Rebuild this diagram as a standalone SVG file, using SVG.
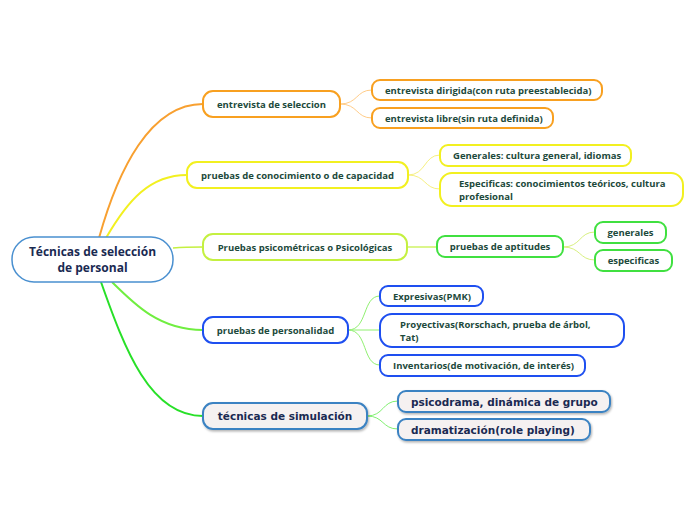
<svg xmlns="http://www.w3.org/2000/svg" width="696" height="520" viewBox="0 0 696 520">
<style>
.t{font-family:"Open Sans","Noto Sans","Liberation Sans",sans-serif;font-weight:bold;font-size:9.5px;fill:#1d4a3c}
.s{font-family:"DejaVu Sans","Liberation Sans",sans-serif;font-weight:bold;font-size:10.5px;fill:#1a2a52}
.r{font-family:"Open Sans","Noto Sans","Liberation Sans",sans-serif;font-weight:bold;font-size:12px;fill:#1a2a52}
.b{fill:#fff;stroke-width:2}
.or{stroke:#f8a020}.ye{stroke:#f2f020}.yg{stroke:#c4f040}.gr{stroke:#40e040}.bl{stroke:#1e4ff0}
.sm{fill:#f5f1f1;stroke:#3a82c2;stroke-width:2;filter:url(#sh)}
.c{fill:none}
</style>
<defs>
<filter id="sh" x="-10%" y="-30%" width="120%" height="170%">
<feDropShadow dx="1" dy="1.5" stdDeviation="1" flood-color="#000" flood-opacity="0.3"/>
</filter>
</defs>
<g id="connectors" class="c">
<path d="M99,238 C118,170 150,104 203,104" stroke="#f8a030" stroke-width="2"/>
<path d="M106,238 C128,200 150,175 187,175" stroke="#f2f020" stroke-width="2"/>
<path d="M173,248 C185,247 192,247 203,247" stroke="#c4f040" stroke-width="1.5"/>
<path d="M112,282 C135,305 160,330 203,330" stroke="#70ee40" stroke-width="2"/>
<path d="M101,282 C125,350 150,416 203,416" stroke="#28e028" stroke-width="2"/>
<path d="M340,104 C358,104 356,90 372,90 M340,104 C358,104 356,118 372,118" stroke="#ffcc88" stroke-width="1"/>
<path d="M408,175 C426,175 424,155 440,155 M408,175 C426,175 424,189 440,189" stroke="#f6f080" stroke-width="1"/>
<path d="M407,247 L437,247" stroke="#c4f040" stroke-width="1.2"/>
<path d="M563,247 C581,247 579,232 595,232 M563,247 C581,247 579,260 595,260" stroke="#d8f080" stroke-width="1"/>
<path d="M348,330 C368,330 362,296 380,296 M348,330 L380,330 M348,330 C368,330 362,365 380,365" stroke="#90f070" stroke-width="1"/>
<path d="M367,416 C384,416 382,401 398,401 M367,416 C384,416 382,429 398,429" stroke="#80f070" stroke-width="1"/>
</g>
<g id="root">
<rect x="12" y="237" width="161" height="45" rx="22" fill="#fff" stroke="#4a90d0" stroke-width="1.5"/>
<text class="r" x="92.5" y="256" text-anchor="middle">Técnicas de selección</text>
<text class="r" x="92.5" y="272" text-anchor="middle">de personal</text>
</g>
<g id="n1"><rect class="b or" x="203" y="91" width="137" height="26" rx="10"/><text class="t" x="271.5" y="107.5" text-anchor="middle">entrevista de seleccion</text></g>
<g id="n1a"><rect class="b or" x="372" y="80" width="230" height="20" rx="8"/><text class="t" x="385" y="93.5">entrevista dirigida(con ruta preestablecida)</text></g>
<g id="n1b"><rect class="b or" x="372" y="108" width="181" height="20" rx="8"/><text class="t" x="385" y="121.5">entrevista libre(sin ruta definida)</text></g>
<g id="n2"><rect class="b ye" x="187" y="162" width="221" height="26" rx="10"/><text class="t" x="297.5" y="178.5" text-anchor="middle">pruebas de conocimiento o de capacidad</text></g>
<g id="n2a"><rect class="b ye" x="440" y="145" width="191" height="21" rx="8"/><text class="t" x="453" y="159">Generales: cultura general, idiomas</text></g>
<g id="n2b"><rect class="b ye" x="440" y="173" width="243" height="33" rx="12"/><text class="t" x="459" y="187">Especificas: conocimientos teóricos, cultura</text><text class="t" x="459" y="200">profesional</text></g>
<g id="n3"><rect class="b yg" x="203" y="234" width="204" height="26" rx="10"/><text class="t" x="305" y="250.5" text-anchor="middle">Pruebas psicométricas o Psicológicas</text></g>
<g id="n3a"><rect class="b gr" x="437" y="236" width="126" height="21" rx="8"/><text class="t" x="500" y="250" text-anchor="middle">pruebas de aptitudes</text></g>
<g id="n3a1"><rect class="b gr" x="595" y="222" width="71" height="21" rx="8"/><text class="t" x="630.5" y="236" text-anchor="middle">generales</text></g>
<g id="n3a2"><rect class="b gr" x="595" y="250" width="77" height="21" rx="8"/><text class="t" x="633.5" y="264" text-anchor="middle">especificas</text></g>
<g id="n4"><rect class="b bl" x="203" y="317" width="145" height="26" rx="10"/><text class="t" x="275.5" y="333.5" text-anchor="middle">pruebas de personalidad</text></g>
<g id="n4a"><rect class="b bl" x="380" y="286" width="103" height="20" rx="8"/><text class="t" x="393" y="299.5">Expresivas(PMK)</text></g>
<g id="n4b"><rect class="b bl" x="380" y="314" width="244" height="33" rx="12"/><text class="t" x="400" y="328">Proyectivas(Rorschach, prueba de árbol,</text><text class="t" x="400" y="341">Tat)</text></g>
<g id="n4c"><rect class="b bl" x="380" y="355" width="205" height="21" rx="8"/><text class="t" x="393" y="369">Inventarios(de motivación, de interés)</text></g>
<g id="n5"><rect class="sm" x="203" y="403" width="164" height="26" rx="10"/><text class="s" x="285" y="420" text-anchor="middle">técnicas de simulación</text></g>
<g id="n5a"><rect class="sm" x="398" y="391" width="212" height="21" rx="8"/><text class="s" x="411" y="405.5">psicodrama, dinámica de grupo</text></g>
<g id="n5b"><rect class="sm" x="398" y="419" width="192" height="21" rx="8"/><text class="s" x="411" y="433.5">dramatización(role playing)</text></g>
</svg>
